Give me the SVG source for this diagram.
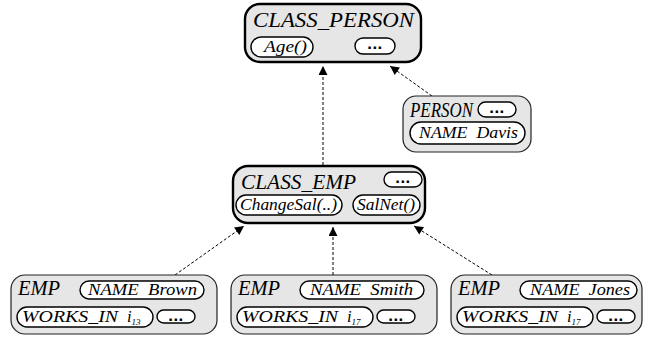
<svg xmlns="http://www.w3.org/2000/svg" width="648" height="338" viewBox="0 0 648 338">
<defs>
<style>
.box{fill:#e6e6e6;stroke:#222;stroke-width:1.2}
.cls{fill:#e6e6e6;stroke:#000;stroke-width:2.4}
.pill{fill:#fff;stroke:#000;stroke-width:1.4}
.t{font-family:'Liberation Serif','Times New Roman',serif;font-style:italic;fill:#000}
.title{font-size:22px}
.name{font-size:21px}
.p{font-size:16.5px}
.dots{font-family:'Liberation Sans',Arial,sans-serif;font-weight:bold;font-size:17px;letter-spacing:0.5px;text-anchor:middle}
.sub{font-size:9px}
.conn{fill:none;stroke:#000;stroke-width:1;stroke-dasharray:3,2}
</style>
<marker id="ah" viewBox="0 0 10 10" refX="10" refY="5" markerWidth="11" markerHeight="9" markerUnits="userSpaceOnUse" orient="auto">
<path d="M0,0 L10,5 L0,10 Z" fill="#000"/>
</marker>
</defs>
<rect width="648" height="338" fill="#fff"/>
<g id="connectors">
<line class="conn" x1="323" y1="165" x2="323" y2="66" marker-end="url(#ah)"/>
<line class="conn" x1="432" y1="96" x2="390" y2="66" marker-end="url(#ah)"/>
<line class="conn" x1="175" y1="275" x2="244" y2="226" marker-end="url(#ah)"/>
<line class="conn" x1="333" y1="275" x2="333" y2="227" marker-end="url(#ah)"/>
<line class="conn" x1="492" y1="275" x2="414" y2="226" marker-end="url(#ah)"/>
</g>
<g id="class_person">
<rect class="cls" x="245" y="4" width="176" height="58" rx="15"/>
<text class="t title" x="253" y="27" textLength="161" lengthAdjust="spacingAndGlyphs">CLASS_PERSON</text>
<rect class="pill" x="251" y="37" width="62" height="20" rx="10"/>
<text class="t p" x="264" y="52" textLength="43" lengthAdjust="spacingAndGlyphs">Age()</text>
<rect class="pill" x="355" y="38" width="40" height="16" rx="8"/>
<text class="dots" x="375" y="49">...</text>
</g>
<g id="person">
<rect class="box" x="403" y="96" width="128" height="56" rx="13"/>
<text class="t name" x="410" y="117" textLength="63" lengthAdjust="spacingAndGlyphs">PERSON</text>
<rect class="pill" x="478" y="102" width="38" height="15" rx="7.5"/>
<text class="dots" x="497" y="113">...</text>
<rect class="pill" x="410" y="122" width="115" height="22" rx="11"/>
<text class="t p" x="419" y="138" textLength="99" lengthAdjust="spacingAndGlyphs" xml:space="preserve">NAME  Davis</text>
</g>
<g id="class_emp">
<rect class="cls" x="233" y="166" width="192" height="57" rx="15"/>
<text class="t title" x="241" y="189" textLength="115" lengthAdjust="spacingAndGlyphs">CLASS_EMP</text>
<rect class="pill" x="384" y="172" width="38" height="15" rx="7.5"/>
<text class="dots" x="403" y="183">...</text>
<rect class="pill" x="236" y="195" width="106" height="20" rx="10"/>
<text class="t p" x="240" y="210" textLength="97" lengthAdjust="spacingAndGlyphs">ChangeSal(..)</text>
<rect class="pill" x="353" y="195" width="67" height="20" rx="10"/>
<text class="t p" x="357" y="210" textLength="58" lengthAdjust="spacingAndGlyphs">SalNet()</text>
</g>
<g id="emp_brown">
<rect class="box" x="11" y="275" width="206" height="59" rx="14"/>
<text class="t name" x="18" y="295" textLength="42" lengthAdjust="spacingAndGlyphs">EMP</text>
<rect class="pill" x="80" y="281" width="124" height="18" rx="9"/>
<text class="t p" x="88" y="295" textLength="109" lengthAdjust="spacingAndGlyphs" xml:space="preserve">NAME  Brown</text>
<rect class="pill" x="17" y="307" width="136" height="20" rx="10"/>
<text class="t p" x="22" y="322"><tspan textLength="96" lengthAdjust="spacingAndGlyphs">WORKS_IN</tspan><tspan x="127">i</tspan><tspan class="sub" dy="3">13</tspan></text>
<rect class="pill" x="157" y="310" width="38" height="13" rx="6.5"/>
<text class="dots" x="176" y="321">...</text>
</g>
<g id="emp_smith">
<rect class="box" x="231" y="275" width="206" height="59" rx="14"/>
<text class="t name" x="238" y="295" textLength="42" lengthAdjust="spacingAndGlyphs">EMP</text>
<rect class="pill" x="300" y="281" width="124" height="18" rx="9"/>
<text class="t p" x="310" y="295" textLength="103" lengthAdjust="spacingAndGlyphs" xml:space="preserve">NAME  Smith</text>
<rect class="pill" x="237" y="307" width="136" height="20" rx="10"/>
<text class="t p" x="242" y="322"><tspan textLength="96" lengthAdjust="spacingAndGlyphs">WORKS_IN</tspan><tspan x="347">i</tspan><tspan class="sub" dy="3">17</tspan></text>
<rect class="pill" x="377" y="310" width="38" height="13" rx="6.5"/>
<text class="dots" x="396" y="321">...</text>
</g>
<g id="emp_jones">
<rect class="box" x="451" y="275" width="191" height="59" rx="14"/>
<text class="t name" x="458" y="295" textLength="42" lengthAdjust="spacingAndGlyphs">EMP</text>
<rect class="pill" x="520" y="281" width="117" height="18" rx="9"/>
<text class="t p" x="530" y="295" textLength="100" lengthAdjust="spacingAndGlyphs" xml:space="preserve">NAME  Jones</text>
<rect class="pill" x="457" y="307" width="136" height="20" rx="10"/>
<text class="t p" x="462" y="322"><tspan textLength="96" lengthAdjust="spacingAndGlyphs">WORKS_IN</tspan><tspan x="567">i</tspan><tspan class="sub" dy="3">17</tspan></text>
<rect class="pill" x="597" y="310" width="38" height="13" rx="6.5"/>
<text class="dots" x="616" y="321">...</text>
</g>
</svg>
